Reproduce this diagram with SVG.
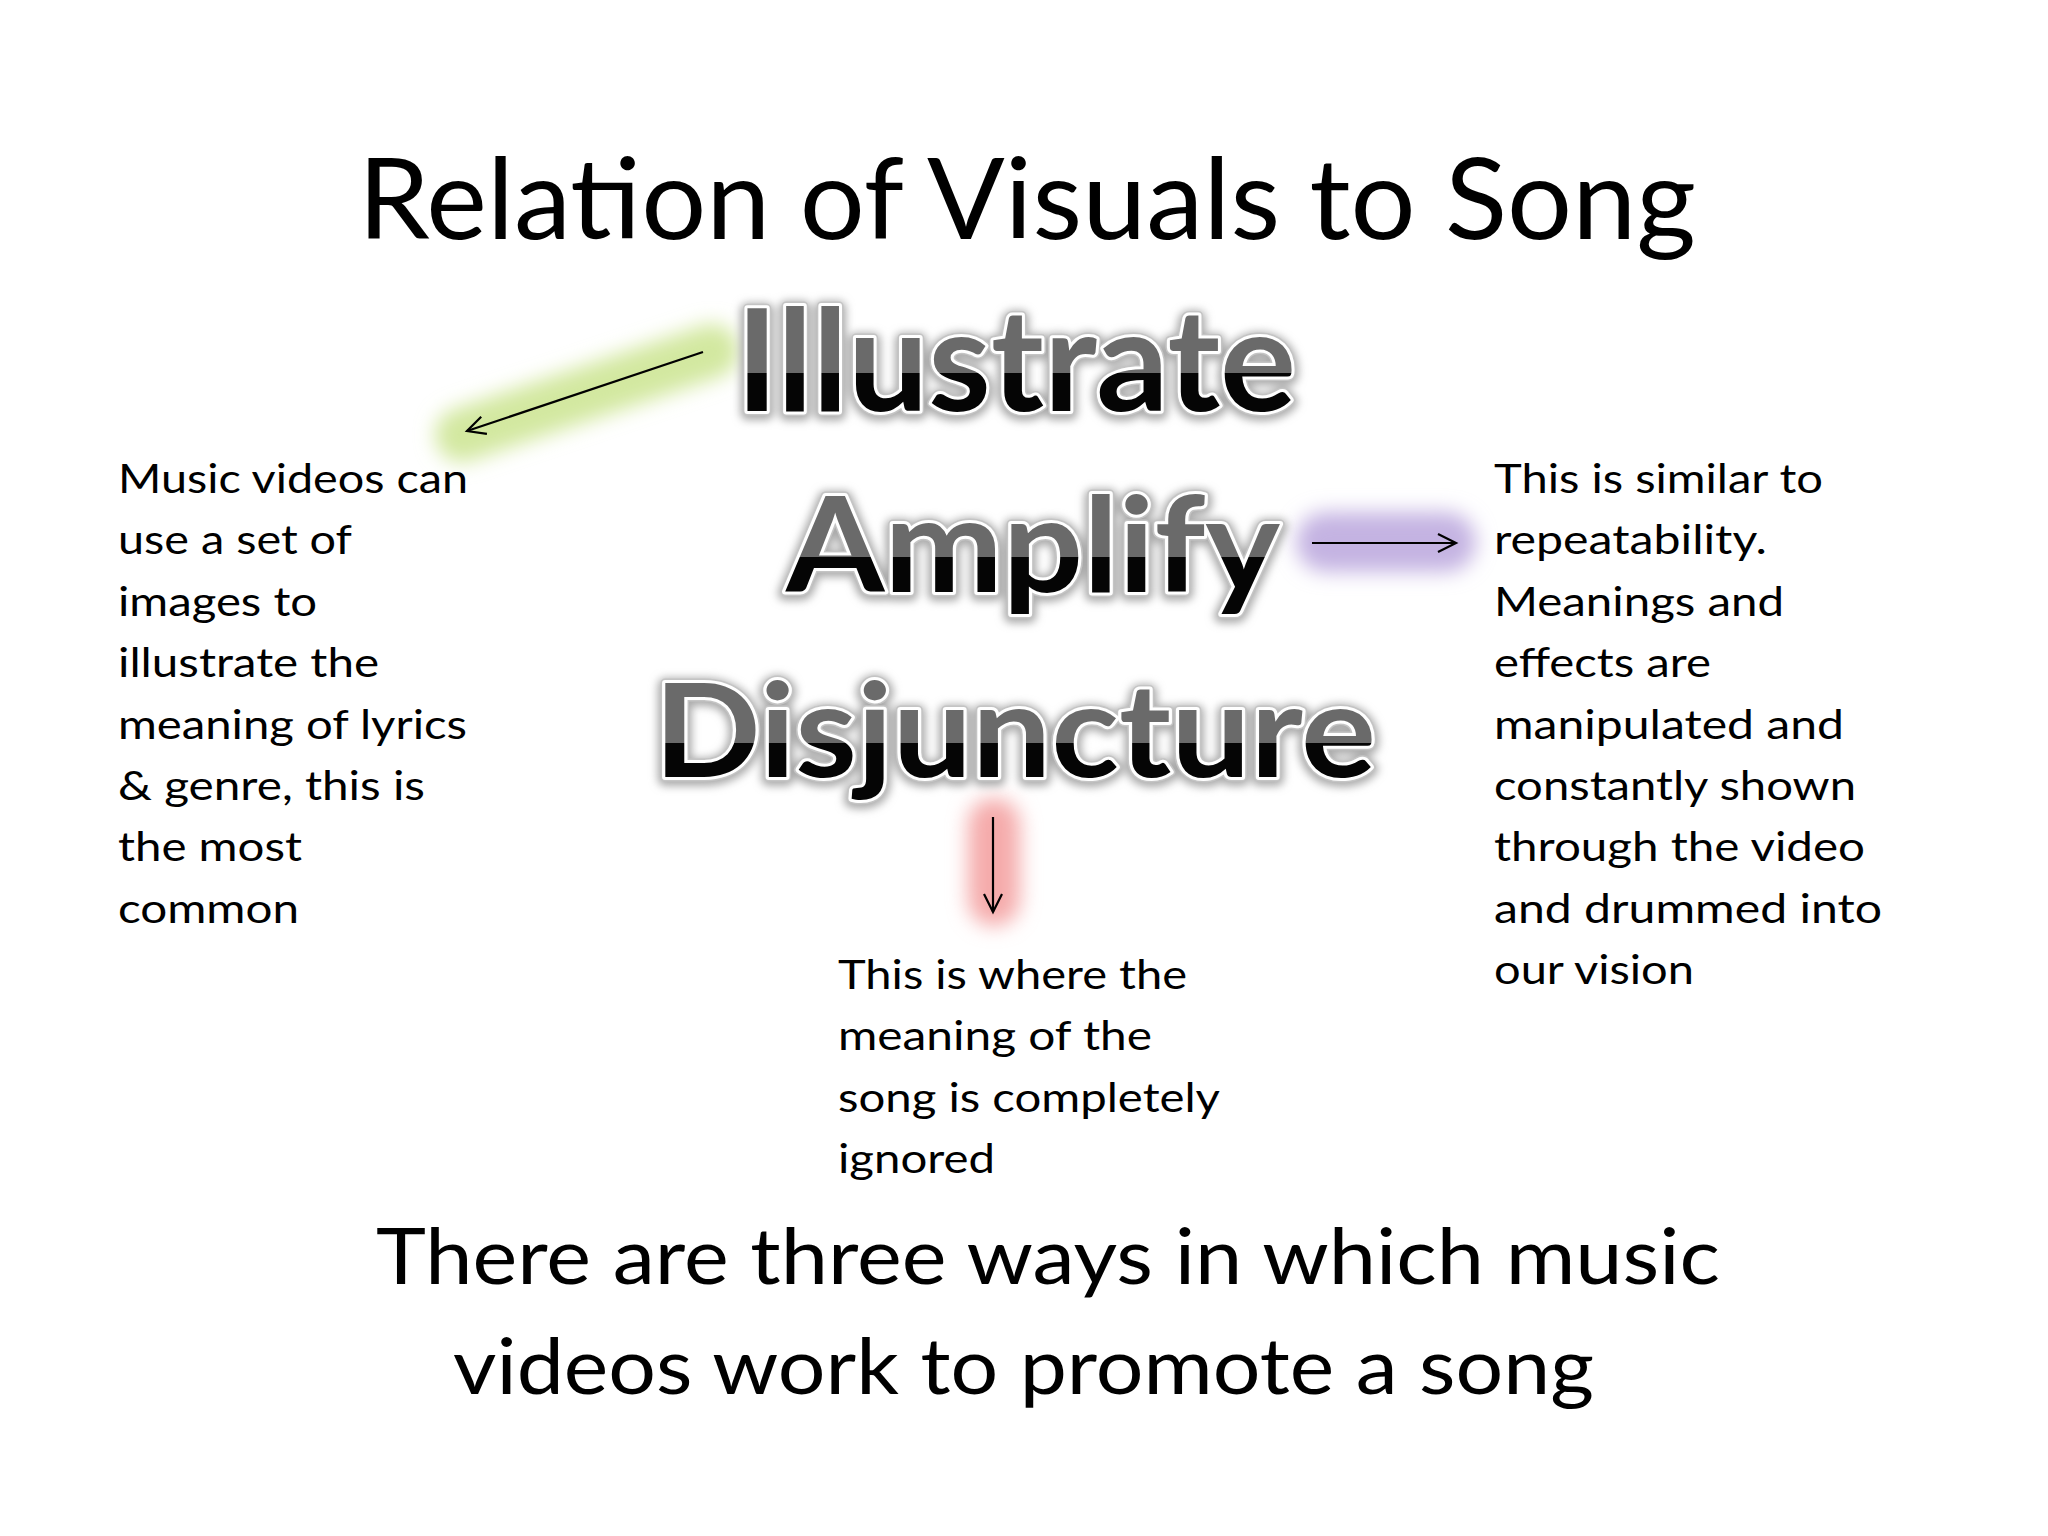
<svg xmlns="http://www.w3.org/2000/svg" width="2048" height="1536" viewBox="0 0 2048 1536">
<style>
.body{font-family:Lato,"Open Sans","Liberation Sans",sans-serif;font-size:41px;fill:#000}
.big{font-family:Lato,"Open Sans","Liberation Sans",sans-serif;fill:#000}
.wa{font-family:Lato,"Open Sans","Liberation Sans",sans-serif;font-weight:700}
.waShadow{fill:#aaa;stroke:#aaa;stroke-width:14;stroke-linejoin:round;filter:url(#blur3)}
.waEdge{fill:none;stroke:#c4c4c4;stroke-width:9;stroke-linejoin:round}
.waMain{stroke:#fff;stroke-width:6;stroke-linejoin:round;paint-order:stroke}
.conn{stroke:#000;stroke-width:2.2;fill:none;marker-end:url(#open)}
.glow{filter:url(#blur8)}
</style>
<defs>
<filter id="blur3" x="-10%" y="-30%" width="120%" height="160%"><feGaussianBlur stdDeviation="4"/></filter>
<filter id="blur8" filterUnits="userSpaceOnUse" x="0" y="0" width="2048" height="1536"><feGaussianBlur stdDeviation="10"/></filter>
<marker id="open" markerUnits="userSpaceOnUse" markerWidth="24" markerHeight="24" viewBox="0 0 24 24" refX="21" refY="12" orient="auto">
<path d="M3,3 L21,12 L3,21" fill="none" stroke="#000" stroke-width="2.2"/>
</marker>
<linearGradient id="gI" gradientUnits="userSpaceOnUse" x1="0" y1="363" x2="0" y2="383">
<stop offset="0.5" stop-color="#6a6a6a"/><stop offset="0.5" stop-color="#050505"/></linearGradient>
<linearGradient id="gA" gradientUnits="userSpaceOnUse" x1="0" y1="547" x2="0" y2="567">
<stop offset="0.5" stop-color="#6a6a6a"/><stop offset="0.5" stop-color="#050505"/></linearGradient>
<linearGradient id="gD" gradientUnits="userSpaceOnUse" x1="0" y1="733" x2="0" y2="753">
<stop offset="0.5" stop-color="#6a6a6a"/><stop offset="0.5" stop-color="#050505"/></linearGradient>
</defs>
<rect width="2048" height="1536" fill="#fff"/>

<g id="connectors">
<line class="glow" x1="712" y1="351" x2="462" y2="435" stroke="#d3e8a0" stroke-width="54" stroke-linecap="round"/>
<rect class="glow" x="1296" y="512" width="180" height="60" rx="30" fill="#c4b3e2"/>
<rect class="glow" x="968" y="798" width="52" height="128" rx="26" fill="#f5abab"/>
<line class="conn" x1="703" y1="352" x2="467" y2="431"/>
<line class="conn" x1="1312" y1="543" x2="1456" y2="543"/>
<line class="conn" x1="993" y1="817" x2="993" y2="912"/>
</g>

<g id="title">
<text class="big" x="358" y="239" font-size="112" textLength="1338" lengthAdjust="spacingAndGlyphs">Relation of Visuals to Song</text>
</g>

<g id="illustrate">
<text class="wa waShadow" x="736" y="413" font-size="142" textLength="560" lengthAdjust="spacingAndGlyphs">Illustrate</text>
<text class="wa waEdge" x="736" y="411" font-size="142" textLength="560" lengthAdjust="spacingAndGlyphs">Illustrate</text>
<text class="wa waMain" x="736" y="411" font-size="142" textLength="560" lengthAdjust="spacingAndGlyphs" fill="url(#gI)">Illustrate</text>
</g>

<g id="amplify">
<text class="wa waShadow" x="786" y="594" font-size="133" textLength="494" lengthAdjust="spacingAndGlyphs">Amplify</text>
<text class="wa waEdge" x="786" y="592" font-size="133" textLength="494" lengthAdjust="spacingAndGlyphs">Amplify</text>
<text class="wa waMain" x="786" y="592" font-size="133" textLength="494" lengthAdjust="spacingAndGlyphs" fill="url(#gA)">Amplify</text>
</g>

<g id="disjuncture">
<text class="wa waShadow" x="654" y="779" font-size="131" textLength="722" lengthAdjust="spacingAndGlyphs">Disjuncture</text>
<text class="wa waEdge" x="654" y="777" font-size="131" textLength="722" lengthAdjust="spacingAndGlyphs">Disjuncture</text>
<text class="wa waMain" x="654" y="777" font-size="131" textLength="722" lengthAdjust="spacingAndGlyphs" fill="url(#gD)">Disjuncture</text>
</g>

<g id="text-illustrate">
<text class="body" x="118" y="493" textLength="350" lengthAdjust="spacingAndGlyphs">Music videos can</text>
<text class="body" x="118" y="554" textLength="234" lengthAdjust="spacingAndGlyphs">use a set of</text>
<text class="body" x="118" y="616" textLength="199" lengthAdjust="spacingAndGlyphs">images to</text>
<text class="body" x="118" y="677" textLength="261" lengthAdjust="spacingAndGlyphs">illustrate the</text>
<text class="body" x="118" y="739" textLength="349" lengthAdjust="spacingAndGlyphs">meaning of lyrics</text>
<text class="body" x="118" y="800" textLength="307" lengthAdjust="spacingAndGlyphs">&amp; genre, this is</text>
<text class="body" x="118" y="861" textLength="184" lengthAdjust="spacingAndGlyphs">the most</text>
<text class="body" x="118" y="923" textLength="181" lengthAdjust="spacingAndGlyphs">common</text>
</g>

<g id="text-amplify">
<text class="body" x="1494" y="493" textLength="329" lengthAdjust="spacingAndGlyphs">This is similar to</text>
<text class="body" x="1494" y="554" textLength="273" lengthAdjust="spacingAndGlyphs">repeatability.</text>
<text class="body" x="1494" y="616" textLength="290" lengthAdjust="spacingAndGlyphs">Meanings and</text>
<text class="body" x="1494" y="677" textLength="217" lengthAdjust="spacingAndGlyphs">effects are</text>
<text class="body" x="1494" y="739" textLength="350" lengthAdjust="spacingAndGlyphs">manipulated and</text>
<text class="body" x="1494" y="800" textLength="362" lengthAdjust="spacingAndGlyphs">constantly shown</text>
<text class="body" x="1494" y="861" textLength="371" lengthAdjust="spacingAndGlyphs">through the video</text>
<text class="body" x="1494" y="923" textLength="388" lengthAdjust="spacingAndGlyphs">and drummed into</text>
<text class="body" x="1494" y="984" textLength="200" lengthAdjust="spacingAndGlyphs">our vision</text>
</g>

<g id="text-disjuncture">
<text class="body" x="838" y="989" textLength="349" lengthAdjust="spacingAndGlyphs">This is where the</text>
<text class="body" x="838" y="1050" textLength="314" lengthAdjust="spacingAndGlyphs">meaning of the</text>
<text class="body" x="838" y="1112" textLength="382" lengthAdjust="spacingAndGlyphs">song is completely</text>
<text class="body" x="838" y="1173" textLength="157" lengthAdjust="spacingAndGlyphs">ignored</text>
</g>

<g id="footer">
<text class="big" x="376" y="1284" font-size="78" textLength="1344" lengthAdjust="spacingAndGlyphs">There are three ways in which music</text>
<text class="big" x="453" y="1394" font-size="78" textLength="1141" lengthAdjust="spacingAndGlyphs">videos work to promote a song</text>
</g>
</svg>
